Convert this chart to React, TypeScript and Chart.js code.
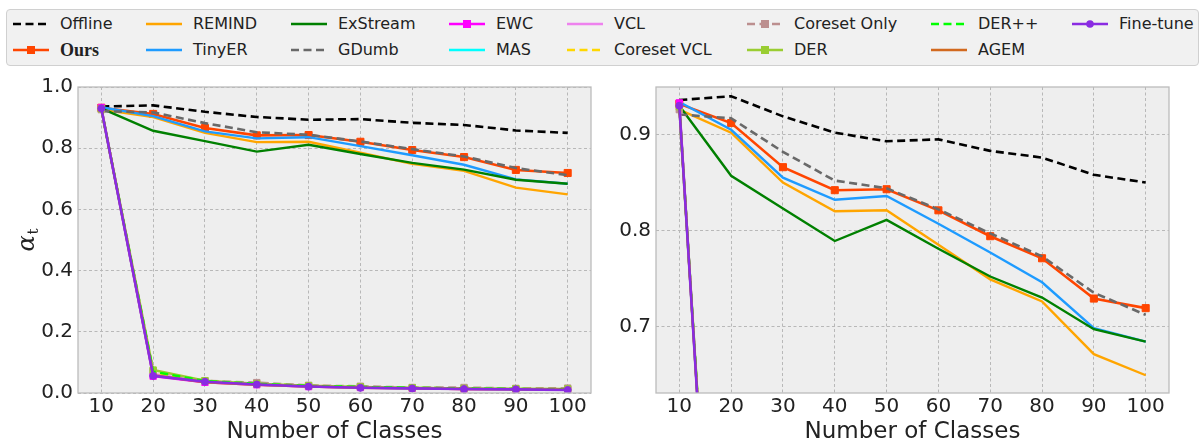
import React, { useEffect, useRef } from "react";
import { Chart, registerables } from "chart.js";
Chart.register(...registerables);

// ---------------- data ----------------
const classes = [10, 20, 30, 40, 50, 60, 70, 80, 90, 100];
const offline = [0.936, 0.94, 0.919, 0.902, 0.893, 0.895, 0.883, 0.876, 0.858, 0.85];
const ours = [0.932, 0.912, 0.866, 0.842, 0.843, 0.821, 0.794, 0.771, 0.729, 0.719];
const remind = [0.926, 0.902, 0.85, 0.82, 0.821, 0.785, 0.749, 0.726, 0.671, 0.649];
const tinyER = [0.934, 0.905, 0.855, 0.832, 0.836, 0.807, 0.777, 0.746, 0.698, 0.684];
const exStream = [0.93, 0.857, 0.823, 0.789, 0.811, 0.781, 0.752, 0.73, 0.697, 0.684];
const gDumb = [0.921, 0.917, 0.882, 0.852, 0.844, 0.822, 0.797, 0.773, 0.735, 0.712];
const ewc = [0.933, 0.055, 0.035, 0.027, 0.021, 0.018, 0.015, 0.013, 0.012, 0.011];
const mas = [0.93, 0.06, 0.037, 0.028, 0.022, 0.018, 0.015, 0.014, 0.012, 0.011];
const vcl = [0.93, 0.062, 0.036, 0.027, 0.021, 0.017, 0.015, 0.013, 0.012, 0.011];
const coresetVCL = [0.928, 0.068, 0.038, 0.03, 0.024, 0.02, 0.017, 0.015, 0.013, 0.012];
const coresetOnly = [0.926, 0.072, 0.04, 0.034, 0.025, 0.022, 0.018, 0.018, 0.015, 0.016];
const der = [0.929, 0.075, 0.04, 0.03, 0.024, 0.02, 0.017, 0.015, 0.014, 0.013];
const derPP = [0.929, 0.07, 0.039, 0.03, 0.023, 0.02, 0.017, 0.015, 0.013, 0.012];
const agem = [0.93, 0.058, 0.035, 0.027, 0.021, 0.017, 0.015, 0.013, 0.012, 0.011];
const fineTune = [0.93, 0.056, 0.037, 0.028, 0.021, 0.017, 0.015, 0.013, 0.012, 0.01];

const leftYTicks = [0, 0.2, 0.4, 0.6, 0.8, 1.0];
const rightYTicks = [0.7, 0.8, 0.9];
const xTitle = "Number of Classes";

// ---------------- styles ----------------
type Marker = "rect" | "circle" | null;
interface SeriesStyle {
  label: string;
  data: number[];
  color: string;
  dash: number[];
  width: number;
  marker: Marker;
  radius: number;
}
const DASH = [8, 4.5];
const series: SeriesStyle[] = [
  { label: "Offline", data: offline, color: "#000000", dash: DASH, width: 2.6, marker: null, radius: 0 },
  { label: "Ours", data: ours, color: "#FF4500", dash: [], width: 2.6, marker: "rect", radius: 5 },
  { label: "REMIND", data: remind, color: "#FFA500", dash: [], width: 2.4, marker: null, radius: 0 },
  { label: "TinyER", data: tinyER, color: "#1E9BFF", dash: [], width: 2.4, marker: null, radius: 0 },
  { label: "ExStream", data: exStream, color: "#008000", dash: [], width: 2.4, marker: null, radius: 0 },
  { label: "GDumb", data: gDumb, color: "#696969", dash: DASH, width: 2.6, marker: null, radius: 0 },
  { label: "EWC", data: ewc, color: "#FF00FF", dash: [], width: 2.4, marker: "rect", radius: 4.5 },
  { label: "MAS", data: mas, color: "#00FFFF", dash: [], width: 2.4, marker: null, radius: 0 },
  { label: "VCL", data: vcl, color: "#EE82EE", dash: [], width: 2.4, marker: null, radius: 0 },
  { label: "Coreset VCL", data: coresetVCL, color: "#FFD700", dash: DASH, width: 2.4, marker: null, radius: 0 },
  { label: "Coreset Only", data: coresetOnly, color: "#BC8F8F", dash: DASH, width: 2.4, marker: "rect", radius: 4.5 },
  { label: "DER", data: der, color: "#9ACD32", dash: [], width: 2.4, marker: "rect", radius: 4.5 },
  { label: "DER++", data: derPP, color: "#00FF00", dash: DASH, width: 2.4, marker: null, radius: 0 },
  { label: "AGEM", data: agem, color: "#D2691E", dash: [], width: 2.4, marker: null, radius: 0 },
  { label: "Fine-tune", data: fineTune, color: "#8A2BE2", dash: [], width: 2.6, marker: "circle", radius: 3.5 },
];

const TEXT = "#222222";
const FONT = "'DejaVu Sans', sans-serif";
const BG = "#EEEEEE";
const EDGE = "#BCBCBC";
const GRID = "#B8B8B8";

const framePlugin = {
  id: "frame",
  beforeDraw(chart: any) {
    const { ctx, chartArea } = chart;
    ctx.save();
    ctx.fillStyle = BG;
    ctx.fillRect(chartArea.left, chartArea.top, chartArea.right - chartArea.left, chartArea.bottom - chartArea.top);
    ctx.restore();
  },
  afterDatasetsDraw(chart: any) {
    const { ctx, chartArea } = chart;
    ctx.save();
    ctx.strokeStyle = EDGE;
    ctx.lineWidth = 1.3;
    ctx.strokeRect(chartArea.left, chartArea.top, chartArea.right - chartArea.left, chartArea.bottom - chartArea.top);
    ctx.restore();
  },
};

const yTitlePlugin = {
  id: "ytitle",
  afterDraw(chart: any) {
    const opts = chart.options.plugins.ytitle;
    if (!opts || !opts.show) return;
    const { ctx, chartArea } = chart;
    const cy = (chartArea.top + chartArea.bottom) / 2;
    ctx.save();
    ctx.translate(opts.x, cy);
    ctx.rotate(-Math.PI / 2);
    ctx.fillStyle = TEXT;
    const fa = "italic 24px 'DejaVu Serif'";
    const ft = "15px 'DejaVu Serif'";
    ctx.font = fa;
    const wa = ctx.measureText("α").width;
    ctx.font = ft;
    const wt = ctx.measureText("t").width;
    const total = wa + wt + 1;
    ctx.textBaseline = "alphabetic";
    ctx.font = fa;
    ctx.fillText("α", -total / 2, 5);
    ctx.font = ft;
    ctx.fillText("t", -total / 2 + wa + 1, 9);
    ctx.restore();
  },
};

function makeConfig(yMin: number, yMax: number, yTicks: number[], yWidth: number, padRight: number, showYTitle: boolean, fmt: (v: number) => string): any {
  const datasets = series.map((s, i) => ({
    label: s.label,
    data: classes.map((x, k) => ({ x, y: s.data[k] })),
    borderColor: s.color,
    backgroundColor: s.color,
    borderWidth: s.width,
    borderDash: s.dash,
    pointStyle: s.marker || "circle",
    pointRadius: s.marker ? s.radius : 0,
    pointBorderWidth: 1,
    pointBorderColor: s.color,
    pointBackgroundColor: s.color,
    tension: 0,
    fill: false,
    order: series.length - i,
  }));
  return {
    type: "line",
    data: { datasets },
    plugins: [framePlugin, yTitlePlugin],
    options: {
      animation: false,
      responsive: false,
      maintainAspectRatio: false,
      events: [],
      layout: { padding: { left: 0, top: 17, right: padRight, bottom: 0 } },
      plugins: {
        legend: { display: false },
        tooltip: { enabled: false },
        ytitle: { show: showYTitle, x: 29 },
      },
      scales: {
        x: {
          type: "linear",
          min: 5.5,
          max: 104.5,
          afterBuildTicks: (scale: any) => {
            scale.ticks = classes.map((v) => ({ value: v }));
          },
          afterFit: (scale: any) => {
            scale.height = 51;
          },
          grid: { color: GRID, lineWidth: 1, drawTicks: false },
          border: { display: false, dash: [3, 2.5] },
          ticks: {
            color: TEXT,
            font: { family: FONT, size: 20 },
            padding: 2,
            maxRotation: 0,
            autoSkip: false,
            callback: (v: any) => String(v),
          },
          title: {
            display: true,
            text: xTitle,
            color: TEXT,
            font: { family: FONT, size: 23, lineHeight: 1 },
            padding: { top: 0, bottom: 0 },
          },
        },
        y: {
          type: "linear",
          min: yMin,
          max: yMax,
          afterBuildTicks: (scale: any) => {
            scale.ticks = yTicks.map((v) => ({ value: v }));
          },
          afterFit: (scale: any) => {
            scale.width = yWidth;
          },
          grid: { color: GRID, lineWidth: 1, drawTicks: false },
          border: { display: false, dash: [3, 2.5] },
          ticks: {
            color: TEXT,
            font: { family: FONT, size: 20 },
            padding: 5,
            autoSkip: false,
            callback: (v: any) => fmt(Number(v)),
          },
        },
      },
    },
  };
}

function ChartPanel(props: { left: number; width: number; cfg: () => any }) {
  const ref = useRef<HTMLCanvasElement | null>(null);
  useEffect(() => {
    if (!ref.current) return;
    const chart = new Chart(ref.current, props.cfg());
    return () => chart.destroy();
  }, []);
  return (
    <canvas
      ref={ref}
      width={props.width}
      height={374}
      style={{ position: "absolute", left: props.left, top: 70, width: props.width, height: 374, display: "block" }}
    />
  );
}

// legend layout
const legendColX = [12, 145, 290, 448, 566, 746, 930, 1071];
const legendRowY = [23, 49];

function LegendSample({ s }: { s: SeriesStyle }) {
  const dash = s.dash.length ? s.dash.join(",") : undefined;
  return (
    <svg width={36} height={16} style={{ position: "absolute", left: 0, top: -8 }}>
      <line x1={0} y1={8} x2={36} y2={8} stroke={s.color} strokeWidth={s.width} strokeDasharray={dash} />
      {s.marker === "rect" && <rect x={18 - 4} y={8 - 4} width={8} height={8} fill={s.color} />}
      {s.marker === "circle" && <circle cx={18} cy={8} r={3.8} fill={s.color} />}
    </svg>
  );
}

function Legend() {
  return (
    <div
      style={{
        position: "absolute",
        left: 6,
        top: 9,
        width: 1193,
        height: 57,
        background: "#F1F1F1",
        border: "1px solid #D0D0D0",
        borderRadius: 4,
        boxSizing: "border-box",
      }}
    >
      {series.map((s, i) => {
        const col = Math.floor(i / 2);
        const row = i % 2;
        const x = legendColX[col] - 6;
        const y = legendRowY[row] - 9;
        const isOurs = s.label === "Ours";
        return (
          <div key={s.label} style={{ position: "absolute", left: x, top: y, height: 0 }}>
            <LegendSample s={s} />
            <div
              style={{
                position: "absolute",
                left: 47,
                top: -11,
                lineHeight: "22px",
                whiteSpace: "nowrap",
                color: TEXT,
                fontFamily: isOurs ? "'Liberation Serif', serif" : FONT,
                fontWeight: isOurs ? 700 : 400,
                fontSize: isOurs ? 18 : 16,
              }}
            >
              {s.label}
            </div>
          </div>
        );
      })}
    </div>
  );
}

export default function App() {
  const fmt1 = (v: number) => v.toFixed(1);
  return (
    <div style={{ position: "fixed", left: 0, top: 0, width: 1201, height: 444, background: "#fff", overflow: "hidden" }}>
      <Legend />
      <ChartPanel left={0} width={600} cfg={() => makeConfig(0, 1, leftYTicks, 78, 9, true, fmt1)} />
      <ChartPanel left={600} width={601} cfg={() => makeConfig(0.6305, 0.9496, rightYTicks, 56, 32, false, fmt1)} />
    </div>
  );
}
